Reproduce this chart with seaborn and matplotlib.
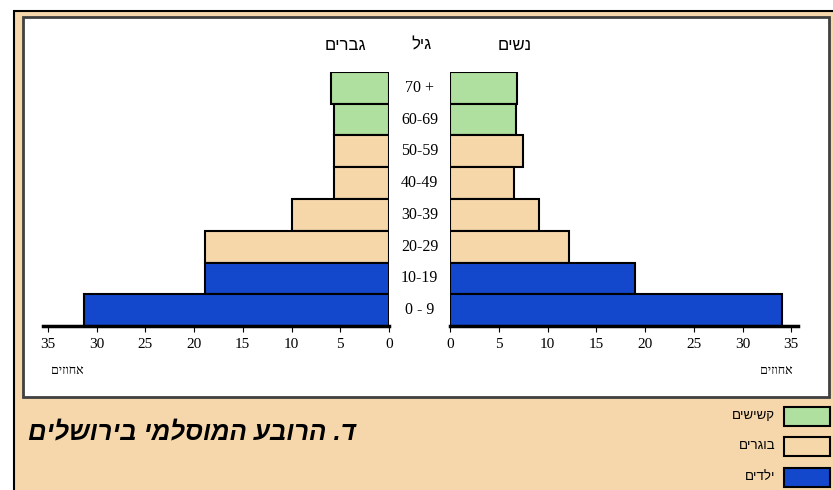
import matplotlib
matplotlib.use("Agg")
import matplotlib.pyplot as plt
from matplotlib.patches import Rectangle
import matplotlib.transforms as mtransforms
import seaborn as sns
import pandas as pd

# ---- data ----
ages = ["70 +", "60-69", "50-59", "40-49", "30-39", "20-29", "10-19", "0 - 9"]
groups = ["קשישים", "קשישים", "בוגרים", "בוגרים", "בוגרים", "בוגרים", "ילדים", "ילדים"]
men = [6.0, 5.6, 5.6, 5.6, 9.9, 18.9, 18.9, 31.3]
women = [6.9, 6.8, 7.5, 6.6, 9.1, 12.2, 19.0, 34.1]
x_ticks = [0, 5, 10, 15, 20, 25, 30, 35]
legend_labels = ["קשישים", "בוגרים", "ילדים"]
title = "ד. הרובע המוסלמי בירושלים"
men_label = "גברים"
age_label = "גיל"
women_label = "נשים"
unit_label = "אחוזים"

colors = {"קשישים": "#B0E0A0", "בוגרים": "#F5D7AA", "ילדים": "#1448CC"}
beige_bg = "#F5D7AB"

def rtl(s):
    return s[::-1]

sns.set_theme(style="white")
plt.rcParams["font.family"] = ["Liberation Sans", "DejaVu Sans"]
plt.rcParams["text.color"] = "black"
plt.rcParams["xtick.color"] = "black"
plt.rcParams["xtick.labelcolor"] = "black"

W, H = 833, 490
fig = plt.figure(figsize=(W / 100, H / 100), dpi=100)
fig.patch.set_facecolor("white")

def fx(x):
    return x / W

def fy(y):
    return 1 - y / H

def frect(x0, y0, x1, y1, **kw):
    r = Rectangle((fx(x0), fy(y1)), fx(x1) - fx(x0), fy(y0) - fy(y1),
                  transform=fig.transFigure, **kw)
    fig.add_artist(r)
    return r

# frame backgrounds
frect(14, 11, 840, 500, facecolor=beige_bg, edgecolor="black", linewidth=1.5, zorder=-10)
frect(23, 17, 829, 397, facecolor="white", edgecolor="#404040", linewidth=2.0, zorder=-9)

df = pd.DataFrame({"age": ages, "group": groups, "men": men, "women": women})

y_top, y_bot = 72, 326
ppu = 9.75
axL = fig.add_axes([fx(43), fy(y_bot), fx(389) - fx(43), (y_bot - y_top) / H])
axR = fig.add_axes([fx(450), fy(y_bot), fx(797.5) - fx(450), (y_bot - y_top) / H])

for ax, col in ((axL, "men"), (axR, "women")):
    sns.barplot(data=df, x=col, y="age", hue="group", palette=colors, order=ages,
                dodge=False, width=1.0, saturation=1, edgecolor="black",
                linewidth=1.5, legend=False, ax=ax)
    ax.set_facecolor("none")
    for s in ("top", "left", "right"):
        ax.spines[s].set_visible(False)
    ax.spines["bottom"].set_linewidth(2.5)
    ax.spines["bottom"].set_color("black")
    ax.set_xticks(x_ticks)
    ax.set_xticklabels([str(t) for t in x_ticks], fontfamily="Liberation Serif", fontsize=11)
    ax.tick_params(axis="x", direction="out", length=4, width=0.8, color="black", pad=5, bottom=True)
    ax.set_yticks([])
    ax.set_ylabel("")
    ax.set_xlabel("")
    ax.set_ylim(7.5, -0.5)

axL.set_xlim((389 - 43) / ppu, 0)
axR.set_xlim(0, (797.5 - 450) / ppu)

# age labels in the centre gap
blend = mtransforms.blended_transform_factory(fig.transFigure, axR.transData)
for i, a in enumerate(ages):
    axR.text(fx(419.5), i, a, transform=blend, ha="center", va="center",
             fontsize=11.5, fontfamily="Liberation Serif", color="black")

# header
for xp, s in ((345, men_label), (421, age_label), (515, women_label)):
    fig.text(fx(xp), fy(45), rtl(s), ha="center", va="center", fontsize=12)

# units
fig.text(fx(67), fy(371), rtl(unit_label), ha="center", va="center", fontsize=9,
         family=["Liberation Serif", "DejaVu Sans"])
fig.text(fx(776), fy(371), rtl(unit_label), ha="center", va="center", fontsize=9,
         family=["Liberation Serif", "DejaVu Sans"])

# title
fig.text(fx(28), fy(432), rtl(title), ha="left", va="center", fontsize=18.5,
         fontweight="bold", fontstyle="italic")

# legend
leg_y = [416, 446, 477]
for lab, yc in zip(legend_labels, leg_y):
    frect(784, yc - 9.5, 830, yc + 9.5, facecolor=colors[lab], edgecolor="black", linewidth=1.5, zorder=2)
    fig.text(fx(775), fy(yc), rtl(lab), ha="right", va="center", fontsize=9.5)

fig.savefig("out.png", dpi=100)
